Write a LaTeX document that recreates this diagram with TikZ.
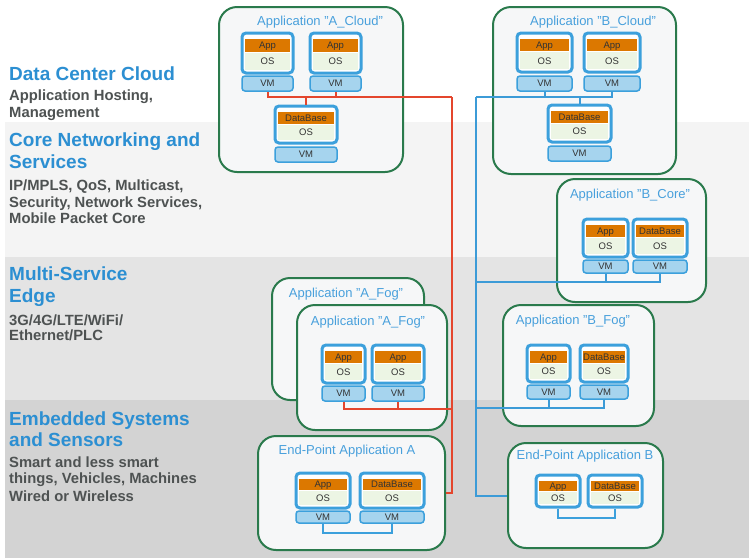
\documentclass[tikz,border=0pt]{standalone}
\usepackage{fontspec}
\setmainfont{Liberation Sans}
\usetikzlibrary{calc}

\definecolor{bandA}{HTML}{F4F4F4}
\definecolor{bandB}{HTML}{E4E4E4}
\definecolor{bandC}{HTML}{D3D3D3}
\definecolor{headblue}{HTML}{2C8FD2}
\definecolor{subgray}{HTML}{4E5252}
\definecolor{titleblue}{HTML}{48A0DC}
\definecolor{groupgreen}{HTML}{2A7A4C}
\definecolor{groupfill}{HTML}{F6F7F8}
\definecolor{stackblue}{HTML}{3CA0DC}
\definecolor{vmfill}{HTML}{A6D4EE}
\definecolor{apporange}{HTML}{DC7800}
\definecolor{osgreen}{HTML}{ECF5E4}
\definecolor{linkred}{HTML}{E4462D}
\definecolor{linkblue}{HTML}{3C9BD7}
\definecolor{labeltext}{HTML}{333333}

% a group of virtual machines (rounded green frame)
\newcommand\mkgroup[5]{% name, x1, y1, x2, y2
  \node[groupframe, minimum width={#4-#2}, minimum height={#5-#3}]
    (#1) at ({(#2+#4)/2},{(#3+#5)/2}) {};}
% application + OS stack
\newcommand\mkstack[6]{% name, x1, x2, top, height, top label
  \node[stackframe, minimum width={#3-#2}, minimum height={#5}]
    (#1) at ({(#2+#3)/2},{#4+#5/2}) {};
  \node[appbar, minimum width={#3-#2-6}, minimum height={0.32*#5}, anchor=north]
    (#1-app) at ({(#2+#3)/2},{#4+5.5}) {#6};
  \node[osbar, minimum width={#3-#2-6}, minimum height={0.68*#5-9.5}, anchor=north]
    (#1-os) at ({(#2+#3)/2},{#4+6.5+0.32*#5}) {OS};}
% virtual machine base
\newcommand\mkvm[5]{% name, x1, x2, top, height
  \node[vmunit, minimum width={#3-#2}, minimum height={#5}]
    (#1) at ({(#2+#3)/2},{#4+#5/2}) {VM};}

\begin{document}
\begin{tikzpicture}[x=1pt,y=-1pt,
  groupframe/.style={draw=groupgreen, line width=2pt, fill=groupfill,
    rounded corners=18pt, inner sep=0pt},
  grouptitle/.style={text=titleblue, font=\fontsize{13}{15}\selectfont, inner sep=0pt},
  stackframe/.style={draw=stackblue, line width=3pt, fill=white,
    rounded corners=4pt, inner sep=0pt},
  celltext/.style={inner sep=0pt, text=labeltext, text height=6.8pt, text depth=0pt,
    font=\fontsize{9.5}{10}\selectfont},
  appbar/.style={celltext, fill=apporange},
  osbar/.style={celltext, fill=osgreen},
  vmunit/.style={celltext, draw=stackblue, line width=1.5pt, fill=vmfill,
    rounded corners=3pt},
  redlink/.style={draw=linkred, line width=2pt},
  bluelink/.style={draw=linkblue, line width=2pt},
  innerlink/.style={draw=stackblue, line width=2pt},
  head/.style={anchor=base west, inner sep=0pt, text=headblue,
    font=\fontsize{19}{22}\selectfont\bfseries},
  sub/.style={anchor=base west, inner sep=0pt, text=subgray,
    font=\fontsize{14.8}{17}\selectfont\bfseries}]

\useasboundingbox (0,0) rectangle (749,558);

% horizontal layer bands
\fill[white] (0,0) rectangle (749,122);
\fill[bandA] (5,122) rectangle (749,257);
\fill[bandB] (5,257) rectangle (749,400);
\fill[bandC] (5,400) rectangle (749,558);

% layer descriptions
\node[head] (l1a) at (9,80) {Data Center Cloud};
\node[sub]  (l1b) at (9,100) {Application Hosting,};
\node[sub]  (l1c) at (9,117) {Management};
\node[head] (l2a) at (9,146) {Core Networking and};
\node[head] (l2b) at (9,168) {Services};
\node[sub]  (l2c) at (9,190) {IP/MPLS, QoS, Multicast,};
\node[sub]  (l2d) at (9,207) {Security, Network Services,};
\node[sub]  (l2e) at (9,223) {Mobile Packet Core};
\node[head] (l3a) at (9,280) {Multi-Service};
\node[head] (l3b) at (9,302) {Edge};
\node[sub]  (l3c) at (9,325) {3G/4G/LTE/WiFi/};
\node[sub]  (l3d) at (9,340) {Ethernet/PLC};
\node[head] (l4a) at (9,425) {Embedded Systems};
\node[head] (l4b) at (9,446) {and Sensors};
\node[sub]  (l4c) at (9,467) {Smart and less smart};
\node[sub]  (l4d) at (9,483) {things, Vehicles, Machines};
\node[sub]  (l4e) at (9,501) {Wired or Wireless};

% application groups
\mkgroup{acloud}{219}{7}{403}{172}
\mkgroup{bcloud}{493}{7}{676}{174}
\mkgroup{bcore}{557}{179}{706}{302}
\mkgroup{afogback}{272}{278}{424}{400}
\mkgroup{afog}{297}{305}{447}{430}
\mkgroup{bfog}{503}{305}{654}{426}
\mkgroup{epa}{258}{436}{445}{550}
\mkgroup{epb}{508}{443}{663}{548}

\node[grouptitle] (acloud-t) at (320,22) {Application "A\_Cloud"};
\node[grouptitle] (bcloud-t) at (593,22) {Application "B\_Cloud"};
\node[grouptitle] (bcore-t) at (630,195) {Application "B\_Core"};
\node[grouptitle] (afogback-t) at (346,294) {Application "A\_Fog"};
\node[grouptitle] (afog-t) at (368,322) {Application "A\_Fog"};
\node[grouptitle] (bfog-t) at (573,321) {Application "B\_Fog"};
\node[grouptitle] (epa-t) at (347,451) {End-Point Application A};
\node[grouptitle] (epb-t) at (585,456) {End-Point Application B};

% application stacks and their VMs
\mkstack{ac1}{242}{293}{33}{40}{App}     \mkvm{ac1v}{242}{293}{76}{15}
\mkstack{ac2}{310}{361}{33}{40}{App}     \mkvm{ac2v}{310}{361}{76}{15}
\mkstack{acdb}{275}{337}{106}{37}{DataBase} \mkvm{acdbv}{275}{337}{147}{15}

\mkstack{bc1}{517}{572}{33}{39}{App}     \mkvm{bc1v}{517}{572}{76}{15}
\mkstack{bc2}{584}{640}{33}{39}{App}     \mkvm{bc2v}{584}{640}{76}{15}
\mkstack{bcdb}{548}{611}{105}{37}{DataBase} \mkvm{bcdbv}{548}{611}{146}{15}

\mkstack{bk1}{583}{628}{219}{38}{App}      \mkvm{bk1v}{583}{628}{260}{13}
\mkstack{bk2}{633}{687}{219}{38}{DataBase} \mkvm{bk2v}{633}{687}{260}{13}

\mkstack{af1}{322}{365}{345}{38}{App}    \mkvm{af1v}{322}{365}{386}{15}
\mkstack{af2}{372}{424}{345}{38}{App}    \mkvm{af2v}{372}{424}{386}{15}

\mkstack{bf1}{527}{570}{345}{37}{App}      \mkvm{bf1v}{527}{570}{385}{14}
\mkstack{bf2}{580}{628}{345}{37}{DataBase} \mkvm{bf2v}{580}{628}{385}{14}

\mkstack{ea1}{296}{350}{473}{35}{App}      \mkvm{ea1v}{296}{350}{511}{12}
\mkstack{ea2}{360}{424}{473}{35}{DataBase} \mkvm{ea2v}{360}{424}{511}{12}

\mkstack{eb1}{536}{580}{475}{32}{App}
\mkstack{eb2}{588}{642}{475}{32}{DataBase}

% application A links (red)
\coordinate (rtop) at (452,97);
\coordinate (rfog) at (452,409);
\draw[redlink] (ac1v.south) |- (rtop);
\draw[redlink] (ac2v.south) -- (ac2v.south |- rtop);
\draw[redlink] (acdb.north) -- (acdb.north |- rtop);
\draw[redlink] (rtop) |- (epa.east);
\draw[redlink] (af1v.south) |- (rfog);
\draw[redlink] (af2v.south) -- (af2v.south |- rfog);

% application B links (blue)
\coordinate (btop) at (476,97);
\coordinate (bcor) at (476,282);
\coordinate (bfg) at (476,408);
\draw[bluelink] (bc2v.south) |- (btop);
\draw[bluelink] (bc1v.south) -- (bc1v.south |- btop);
\draw[bluelink] (bcdb.north) -- (bcdb.north |- btop);
\draw[bluelink] (btop) |- (epb.west);
\draw[bluelink] (bk2v.south) |- (bcor);
\draw[bluelink] (bk1v.south) -- (bk1v.south |- bcor);
\draw[bluelink] (bf2v.south) |- (bfg);
\draw[bluelink] (bf1v.south) -- (bf1v.south |- bfg);

% local links inside the end-point groups
\draw[innerlink] (ea1v.south) -- ++(0,9) -| (ea2v.south);
\draw[innerlink] (eb1.south) -- ++(0,9) -| (eb2.south);

\end{tikzpicture}
\end{document}
